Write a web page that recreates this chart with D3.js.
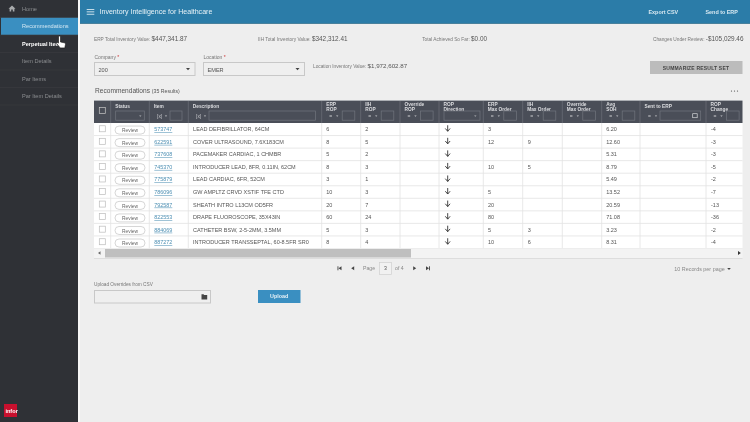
<!DOCTYPE html>
<html>
<head>
<meta charset="utf-8">
<style>
  html, body { margin: 0; padding: 0; background: #eeeeee; overflow: hidden; }
  svg { display: block; font-family: "Liberation Sans", Arial, sans-serif; filter: blur(0.4px); }
</style>
<script src="https://cdnjs.cloudflare.com/ajax/libs/d3/7.8.5/d3.min.js"></script>
</head>
<body>
<div id="screen"></div>
<script>
// Table values
var items = ["573747", "622591", "737608", "745370", "775879", "786096", "792587", "822553", "884069", "887272"];
var descriptions = ["LEAD DEFIBRILLATOR, 64CM", "COVER ULTRASOUND, 7.6X183CM", "PACEMAKER CARDIAC, 1 CHMBR",
  "INTRODUCER LEAD, 8FR, 0.11IN, 62CM", "LEAD CARDIAC, 6FR, 52CM", "GW AMPLTZ CRVD XSTIF TFE CTD",
  "SHEATH INTRO L13CM OD5FR", "DRAPE FLUOROSCOPE, 35X43IN", "CATHETER BSW, 2-5-2MM, 3.5MM",
  "INTRODUCER TRANSSEPTAL, 60-8.5FR SR0"];
var erpRop = [6, 8, 5, 8, 3, 10, 20, 60, 5, 8];
var iihRop = [2, 5, 2, 3, 1, 3, 7, 24, 3, 4];
var erpMaxOrder = [3, 12, "", 10, "", 5, 20, 80, 5, 10];
var iihMaxOrder = ["", 9, "", 5, "", "", "", "", 3, 6];
var avgSoh = ["6.20", "12.60", "5.31", "8.79", "5.49", "13.52", "20.59", "71.08", "3.23", "8.31"];
var ropChange = [-4, -3, -3, -5, -2, -7, -13, -36, -2, -4];

var navItems = ["Home", "Recommendations", "Perpetual Items", "Item Details", "Par Items", "Par Item Details"];
var columnNames = ["check", "Status", "Item", "Description", "ERP|ROP", "IIH|ROP", "Override|ROP", "ROP|Direction",
  "ERP|Max Order", "IIH|Max Order", "Override|Max Order", "Avg|SOH", "Sent to ERP", "ROP|Change"];
var summaryLabels = ["ERP Total Inventory Value:", "IIH Total Inventory Value:", "Total Achieved So Far:", "Changes Under Review:"];
var summaryValues = ["$447,341.87", "$342,312.41", "$0.00", "-$105,029.46"];

// Colors
var sideColor = "#2f3136", topColor = "#2b7ca8", activeColor = "#3a8fc1", headColor = "#4a4e58";
var textColor = "#555", lineColor = "#e2e2e2", linkColor = "#4d8fb3";

var width = 750, height = 422;
var svg = d3.select("#screen").append("svg").attr("width", width).attr("height", height);
svg.append("rect").attr("width", width).attr("height", height).attr("fill", "#eeeeee");

function rect(x, y, w, h, fill, stroke) {
  return svg.append("rect").attr("x", x).attr("y", y).attr("width", w).attr("height", h)
    .attr("fill", fill || "none").attr("stroke", stroke || "none").attr("stroke-width", 0.7);
}
function label(x, y, str, size, color, weight) {
  return svg.append("text").attr("x", x).attr("y", y).text(str)
    .attr("font-size", size).attr("fill", color || textColor).attr("font-weight", weight || "normal");
}
function triangle(x, y, size, color) {
  svg.append("path").attr("d", "M" + (x - size) + "," + y + "h" + size * 2 + "l" + (-size) + "," + size * 1.1 + "z").attr("fill", color);
}

// Sidebar
var navY = d3.scaleBand().domain(navItems).range([0, 105]);
rect(0, 0, 78, height, sideColor);
rect(78, 0, 2, height, "#f8f8f8");
rect(1, navY("Recommendations"), 77, navY.bandwidth(), activeColor);
navItems.forEach(function(d, i) {
  var selected = d == "Perpetual Items";
  var color = d == "Recommendations" ? "#d5e8f3" : selected ? "#ffffff" : "#8b8d90";
  label(22, navY(d) + 10.8, d, 5.6, color, selected ? "bold" : "normal");
  svg.append("line").attr("x1", 0).attr("x2", 78).attr("y1", navY(d) + navY.bandwidth()).attr("y2", navY(d) + navY.bandwidth())
    .attr("stroke", "#3b3d42").attr("stroke-width", 0.6);
});
// home icon
svg.append("path").attr("d", "M12,5.5 L15.5,8.8 H14.4 V11.5 H12.8 V9.6 H11.2 V11.5 H9.6 V8.8 H8.5 Z").attr("fill", "#a9abad");

// Pointer cursor over the nav
svg.append("path").attr("d", "M58.5,36.5 q1,-1 2,0 v5.5 l4,0.8 q1,0.3 1,1.5 l-0.7,3.6 h-4.6 l-3.6,-4.6 q-0.3,-1.2 1.2,-0.8 l0.7,0.6 z")
  .attr("fill", "#ffffff").attr("stroke", "#111").attr("stroke-width", 0.6);

// Infor logo
rect(4, 404, 13, 13, "#c8102e");
label(5.4, 412.5, "infor", 5.6, "#fff", "bold");

// Top bar
rect(80, 0, 670, 23, topColor);
rect(80, 23, 670, 0.8, "#1f6488");
[9.5, 11.8, 14.2].forEach(function(y) { rect(86.7, y - 0.4, 7.6, 0.9, "#d7e8f1"); });
label(99.5, 14.2, "Inventory Intelligence for Healthcare", 7.05, "#e8f2f7");
label(648.5, 13.6, "Export CSV", 5.4, "#d7e8f1", "bold");
label(705.5, 13.6, "Send to ERP", 5.4, "#d7e8f1", "bold");

// Summary values
var summaryX = [94, 258, 422.2, 653];
summaryLabels.forEach(function(d, i) {
  var t = svg.append("text").attr("x", summaryX[i]).attr("y", 41).attr("fill", textColor);
  t.append("tspan").text(d + " ").attr("font-size", 4.75).attr("fill", "#777");
  t.append("tspan").text(summaryValues[i]).attr("font-size", 6.4);
});

// Company and location selectors
function selectBox(x, w, name, value) {
  var t = label(x, 58.5, name + " ", 5, "#777");
  t.append("tspan").text("*").attr("fill", "#c33");
  rect(x, 62.5, w, 13, "#efefef", "#c8c8c8").attr("stroke-width", 1);
  label(x + 4, 71.5, value, 5.6, textColor);
  triangle(x + w - 7, 68, 2, "#444");
}
selectBox(94.5, 100.5, "Company", "200");
selectBox(203.5, 101, "Location", "EMER");
var locText = svg.append("text").attr("x", 313).attr("y", 68.4).attr("fill", textColor);
locText.append("tspan").text("Location Inventory Value: ").attr("font-size", 4.75).attr("fill", "#777");
locText.append("tspan").text("$1,972,602.87").attr("font-size", 6.2);

rect(650, 61, 92.5, 13, "#bcbcbc");
label(696, 69.6, "SUMMARIZE RESULT SET", 5, "#444", "bold").attr("text-anchor", "middle").attr("letter-spacing", 0.2);

// Results title
var title = label(95, 93, "Recommendations ", 6.6, "#555");
title.append("tspan").text("(35 Results)").attr("font-size", 5.2);
[731.5, 734.5, 737.5].forEach(function(x) {
  svg.append("circle").attr("cx", x).attr("cy", 91).attr("r", 0.6).attr("fill", "#444");
});

// Table
var tableLeft = 94, tableRight = 742.5, headTop = 101, headBottom = 123, tableBottom = 248.5;
var columnEdges = [94, 110.7, 149.3, 188.3, 321.7, 360.7, 400, 439, 483.3, 522.7, 562.3, 601.7, 640, 706];
var colX = d3.scaleOrdinal().domain(columnNames).range(columnEdges);
var colRight = function(name) {
  var i = columnNames.indexOf(name);
  return i == columnNames.length - 1 ? tableRight : columnEdges[i + 1];
};
var rowY = d3.scaleBand().domain(items).range([headBottom, tableBottom]);

rect(tableLeft, headBottom, tableRight - tableLeft, tableBottom - headBottom, "#ffffff");
rect(tableLeft, headTop, tableRight - tableLeft, headBottom - headTop, headColor);
rect(tableLeft, headTop - 0.7, tableRight - tableLeft, 0.7, "#8f929a");

// Header cells and their filter boxes
var filterLine = "#71757e";
columnNames.forEach(function(name, i) {
  var x0 = colX(name), x1 = colRight(name);
  if (i > 0) {
    svg.append("line").attr("x1", x0).attr("x2", x0).attr("y1", headTop).attr("y2", headBottom)
      .attr("stroke", "#6d7079").attr("stroke-width", 0.7);
    svg.append("line").attr("x1", x0).attr("x2", x0).attr("y1", headBottom).attr("y2", tableBottom)
      .attr("stroke", lineColor).attr("stroke-width", 0.8);
  }
  if (name == "check") {
    rect(x0 + 5.3, 107.5, 6, 6, "none", "#c8c8c8");
    return;
  }
  var lines = name.split("|");
  var head = svg.append("text").attr("font-size", 4.8).attr("font-weight", "bold").attr("fill", "#dcdde0");
  lines.forEach(function(l, j) {
    head.append("tspan").attr("x", x0 + 4.5).attr("y", lines.length == 2 ? 105.6 + j * 5.2 : 107.5).text(l);
  });
  // filter row
  if (name == "Status") {
    rect(x0 + 5, 111, x1 - x0 - 10, 9.2, "none", filterLine);
    triangle(x1 - 9, 115.5, 1.2, "#b5b7bb");
  } else if (name == "ROP|Direction") {
    rect(x0 + 5, 111, x1 - x0 - 8.3, 9.2, "none", filterLine);
    triangle(x1 - 8, 115.5, 1.2, "#b5b7bb");
  } else if (name == "Item" || name == "Description") {
    label(x0 + 7.8, 117.5, "[x]", 4.8, "#c8c9cc");
    triangle(x0 + 16.7, 115.5, 1.2, "#c8c9cc");
    rect(x0 + 20.7, 111, x1 - x0 - 27, 9.2, "none", filterLine);
  } else if (name == "Sent to ERP") {
    label(x0 + 8, 117.5, "=", 5, "#c8c9cc");
    triangle(x0 + 16, 115.5, 1.2, "#c8c9cc");
    rect(x0 + 20, 111, 40.7, 9.2, "none", filterLine);
    rect(x0 + 52.7, 113.7, 4.5, 4, "none", "#d8d9dc");
  } else {
    label(x0 + 7.5, 117.5, "=", 5, "#c8c9cc");
    triangle(x0 + 15.5, 115.5, 1.2, "#c8c9cc");
    rect(x0 + 20.5, 111, 12.6, 9.2, "none", filterLine);
  }
});

// Body rows
items.forEach(function(item, i) {
  var y0 = rowY(item), mid = y0 + rowY.bandwidth() / 2, base = mid + 2;
  svg.append("line").attr("x1", tableLeft).attr("x2", tableRight).attr("y1", y0 + rowY.bandwidth()).attr("y2", y0 + rowY.bandwidth())
    .attr("stroke", lineColor).attr("stroke-width", 0.8);
  rect(colX("check") + 5.3, mid - 3.5, 6, 6, "#fff", "#bbbbbb");
  rect(colX("Status") + 4.3, mid - 3.2, 30, 8, "#fff", "#c4c4c4").attr("rx", 4);
  label(colX("Status") + 19.3, base + 1, "Review", 4.9, "#666").attr("text-anchor", "middle");
  label(colX("Item") + 5, base, item, 5.4, linkColor).attr("text-decoration", "underline");
  label(colX("Description") + 4.8, base, descriptions[i], 5.5, textColor);
  label(colX("ERP|ROP") + 4.5, base, erpRop[i], 5.5, textColor);
  label(colX("IIH|ROP") + 4.5, base, iihRop[i], 5.5, textColor);
  // ROP direction arrow
  var ax = colX("ROP|Direction") + 8.7;
  svg.append("path").attr("d", "M" + ax + "," + (mid - 4) + "v6M" + (ax - 2.4) + "," + (mid - 0.8) + "L" + ax + "," + (mid + 2) + "L" + (ax + 2.4) + "," + (mid - 0.8))
    .attr("fill", "none").attr("stroke", "#333").attr("stroke-width", 0.9);
  label(colX("ERP|Max Order") + 4.7, base, erpMaxOrder[i], 5.5, textColor);
  label(colX("IIH|Max Order") + 5, base, iihMaxOrder[i], 5.5, textColor);
  label(colX("Avg|SOH") + 4.5, base, avgSoh[i], 5.5, textColor);
  label(colX("ROP|Change") + 5, base, ropChange[i], 5.5, textColor);
});

// Horizontal scrollbar
rect(tableLeft, tableBottom, tableRight - tableLeft, 9.5, "#f3f3f3");
rect(105, tableBottom + 0.5, 306, 8.5, "#bfbfbf");
rect(tableLeft, tableBottom + 9.5, tableRight - tableLeft, 0.7, "#d6d6d6");
svg.append("path").attr("d", "M98,253 l2.5,-1.8 v3.6 z").attr("fill", "#666");
svg.append("path").attr("d", "M738,251 l2.8,2 l-2.8,2 z").attr("fill", "#333");

// Pager
var pagerY = 268.3;
function pagerArrow(x, dir, bar) {
  svg.append("path").attr("d", "M" + x + "," + (pagerY - 2) + "v4l" + (dir * 3) + ",-2z").attr("fill", "#444");
  if (bar) rect(dir > 0 ? x + 3 : x - 4, pagerY - 2, 0.9, 4, "#444");
}
pagerArrow(341.5, -1, true);
pagerArrow(354.2, -1, false);
label(363, pagerY + 2, "Page", 5.2, "#888");
rect(379.5, 262.5, 12, 12, "#f1f1f1", "#cfcfcf");
label(385.5, pagerY + 2, "3", 5.2, textColor).attr("text-anchor", "middle");
label(395, pagerY + 2, "of 4", 5.2, "#888");
pagerArrow(413.2, 1, false);
pagerArrow(426, 1, true);
label(674.3, 271.2, "10 Records per page", 5.4, "#888");
triangle(729, 268, 1.8, "#444");

// Upload row
label(94, 286, "Upload Overrides from CSV", 4.75, "#777");
rect(94.5, 290.5, 116, 12.5, "#efefef", "#c8c8c8").attr("stroke-width", 1);
svg.append("path").attr("d", "M201.5,294.3 h2 l0.7,0.7 h3 v4.5 h-5.7 z").attr("fill", "#444");
rect(258, 290, 42.5, 13, activeColor);
label(279.2, 298.4, "Upload", 5.4, "#e6f1f7", "bold").attr("text-anchor", "middle");
</script>
</body>
</html>
